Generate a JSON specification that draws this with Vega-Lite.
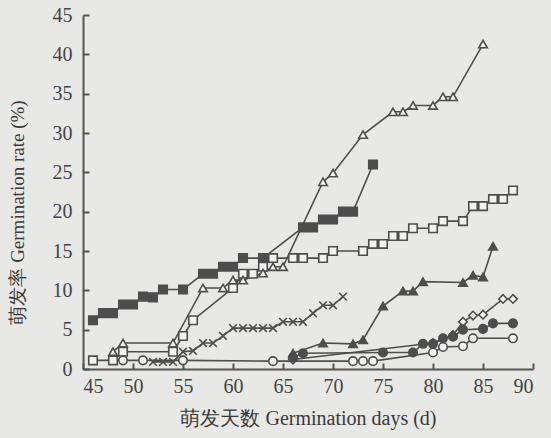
{
  "$schema": "https://vega.github.io/schema/vega-lite/v6.json",
  "width": 450,
  "height": 354,
  "autosize": {"type": "none"},
  "padding": {"left": 83, "top": 15, "right": 18, "bottom": 69},
  "background": "#e8e8e6",
  "config": {"view": {"stroke": null}, "font": "Liberation Serif"},
  "datasets": {
    "pts": [
      {"s": "fsq", "d": 46, "v": 6.2}, {"s": "fsq", "d": 47, "v": 7.1}, {"s": "fsq", "d": 48, "v": 7.1}, {"s": "fsq", "d": 49, "v": 8.2}, {"s": "fsq", "d": 50, "v": 8.2}, {"s": "fsq", "d": 51, "v": 9.2}, {"s": "fsq", "d": 52, "v": 9.1}, {"s": "fsq", "d": 53, "v": 10.1}, {"s": "fsq", "d": 55, "v": 10.1}, {"s": "fsq", "d": 57, "v": 12.1}, {"s": "fsq", "d": 58, "v": 12.1}, {"s": "fsq", "d": 59, "v": 13.0}, {"s": "fsq", "d": 60, "v": 13.0}, {"s": "fsq", "d": 61, "v": 14.1}, {"s": "fsq", "d": 63, "v": 14.1}, {"s": "fsq", "d": 67, "v": 18.0}, {"s": "fsq", "d": 68, "v": 18.0}, {"s": "fsq", "d": 69, "v": 19.0}, {"s": "fsq", "d": 70, "v": 19.0}, {"s": "fsq", "d": 71, "v": 20.0}, {"s": "fsq", "d": 72, "v": 20.0}, {"s": "fsq", "d": 74, "v": 26.0},
      {"s": "osq", "d": 46, "v": 1.1}, {"s": "osq", "d": 48, "v": 1.1}, {"s": "osq", "d": 49, "v": 2.2}, {"s": "osq", "d": 54, "v": 2.2}, {"s": "osq", "d": 55, "v": 4.2}, {"s": "osq", "d": 56, "v": 6.2}, {"s": "osq", "d": 60, "v": 10.3}, {"s": "osq", "d": 61, "v": 12.1}, {"s": "osq", "d": 62, "v": 12.1}, {"s": "osq", "d": 63, "v": 13.0}, {"s": "osq", "d": 64, "v": 14.1}, {"s": "osq", "d": 66, "v": 14.1}, {"s": "osq", "d": 67, "v": 14.1}, {"s": "osq", "d": 69, "v": 14.1}, {"s": "osq", "d": 70, "v": 15.0}, {"s": "osq", "d": 73, "v": 15.0}, {"s": "osq", "d": 74, "v": 15.9}, {"s": "osq", "d": 75, "v": 15.9}, {"s": "osq", "d": 76, "v": 16.9}, {"s": "osq", "d": 77, "v": 16.9}, {"s": "osq", "d": 78, "v": 17.9}, {"s": "osq", "d": 80, "v": 17.9}, {"s": "osq", "d": 81, "v": 18.8}, {"s": "osq", "d": 83, "v": 18.8}, {"s": "osq", "d": 84, "v": 20.7}, {"s": "osq", "d": 85, "v": 20.7}, {"s": "osq", "d": 86, "v": 21.6}, {"s": "osq", "d": 87, "v": 21.6}, {"s": "osq", "d": 88, "v": 22.7},
      {"s": "otr", "d": 48, "v": 2.2}, {"s": "otr", "d": 49, "v": 3.3}, {"s": "otr", "d": 54, "v": 3.3}, {"s": "otr", "d": 57, "v": 10.3}, {"s": "otr", "d": 59, "v": 10.3}, {"s": "otr", "d": 60, "v": 11.3}, {"s": "otr", "d": 61, "v": 11.3}, {"s": "otr", "d": 63, "v": 12.2}, {"s": "otr", "d": 64, "v": 13.0}, {"s": "otr", "d": 65, "v": 13.0}, {"s": "otr", "d": 69, "v": 23.8}, {"s": "otr", "d": 70, "v": 24.9}, {"s": "otr", "d": 73, "v": 29.8}, {"s": "otr", "d": 76, "v": 32.7}, {"s": "otr", "d": 77, "v": 32.7}, {"s": "otr", "d": 78, "v": 33.5}, {"s": "otr", "d": 80, "v": 33.5}, {"s": "otr", "d": 81, "v": 34.6}, {"s": "otr", "d": 82, "v": 34.6}, {"s": "otr", "d": 85, "v": 41.3},
      {"s": "ftr", "d": 66, "v": 2.0}, {"s": "ftr", "d": 69, "v": 3.3}, {"s": "ftr", "d": 72, "v": 3.2}, {"s": "ftr", "d": 73, "v": 3.7}, {"s": "ftr", "d": 75, "v": 8.0}, {"s": "ftr", "d": 77, "v": 9.9}, {"s": "ftr", "d": 78, "v": 9.9}, {"s": "ftr", "d": 79, "v": 11.1}, {"s": "ftr", "d": 83, "v": 11.0}, {"s": "ftr", "d": 84, "v": 11.9}, {"s": "ftr", "d": 85, "v": 11.7}, {"s": "ftr", "d": 86, "v": 15.6},
      {"s": "x", "d": 52, "v": 0.9}, {"s": "x", "d": 53, "v": 0.9}, {"s": "x", "d": 54, "v": 0.9}, {"s": "x", "d": 55, "v": 2.2}, {"s": "x", "d": 56, "v": 2.3}, {"s": "x", "d": 57, "v": 3.3}, {"s": "x", "d": 58, "v": 3.3}, {"s": "x", "d": 59, "v": 4.2}, {"s": "x", "d": 60, "v": 5.2}, {"s": "x", "d": 61, "v": 5.2}, {"s": "x", "d": 62, "v": 5.2}, {"s": "x", "d": 63, "v": 5.2}, {"s": "x", "d": 64, "v": 5.2}, {"s": "x", "d": 65, "v": 6.0}, {"s": "x", "d": 66, "v": 6.0}, {"s": "x", "d": 67, "v": 6.0}, {"s": "x", "d": 68, "v": 7.1}, {"s": "x", "d": 69, "v": 8.1}, {"s": "x", "d": 70, "v": 8.1}, {"s": "x", "d": 71, "v": 9.2},
      {"s": "odi", "d": 66, "v": 1.2}, {"s": "odi", "d": 80, "v": 3.3}, {"s": "odi", "d": 82, "v": 4.3}, {"s": "odi", "d": 83, "v": 6.0}, {"s": "odi", "d": 84, "v": 6.8}, {"s": "odi", "d": 85, "v": 6.9}, {"s": "odi", "d": 87, "v": 8.9}, {"s": "odi", "d": 88, "v": 8.9},
      {"s": "fci", "d": 66, "v": 1.5}, {"s": "fci", "d": 67, "v": 2.0}, {"s": "fci", "d": 75, "v": 2.1}, {"s": "fci", "d": 78, "v": 2.1}, {"s": "fci", "d": 79, "v": 3.2}, {"s": "fci", "d": 80, "v": 3.2}, {"s": "fci", "d": 81, "v": 3.9}, {"s": "fci", "d": 82, "v": 4.1}, {"s": "fci", "d": 83, "v": 5.0}, {"s": "fci", "d": 85, "v": 5.1}, {"s": "fci", "d": 86, "v": 5.8}, {"s": "fci", "d": 88, "v": 5.8},
      {"s": "oci", "d": 49, "v": 1.1}, {"s": "oci", "d": 51, "v": 1.1}, {"s": "oci", "d": 55, "v": 1.1}, {"s": "oci", "d": 64, "v": 1.0}, {"s": "oci", "d": 72, "v": 1.0}, {"s": "oci", "d": 73, "v": 1.0}, {"s": "oci", "d": 74, "v": 1.0}, {"s": "oci", "d": 80, "v": 2.1}, {"s": "oci", "d": 81, "v": 2.8}, {"s": "oci", "d": 83, "v": 2.9}, {"s": "oci", "d": 84, "v": 3.9}, {"s": "oci", "d": 88, "v": 3.9}
    ]
  },
  "data": {"name": "pts"},
  "encoding": {
    "x": {
      "field": "d", "type": "quantitative",
      "scale": {"domain": [45, 90], "nice": false, "zero": false},
      "axis": {
        "values": [45, 50, 55, 60, 65, 70, 75, 80, 85, 90],
        "grid": false, "domainColor": "#555", "domainWidth": 2, "tickColor": "#555", "tickWidth": 2, "tickSize": -6,
        "labelFont": "Liberation Serif", "labelFontSize": 20, "labelColor": "#444", "labelPadding": 13,
        "title": "萌发天数  Germination days (d)", "titleFont": "Liberation Serif", "titleFontSize": 20, "titleFontWeight": "normal", "titleColor": "#3a3a3a", "titlePadding": 12
      }
    },
    "y": {
      "field": "v", "type": "quantitative",
      "scale": {"domain": [0, 45], "nice": false},
      "axis": {
        "values": [0, 5, 10, 15, 20, 25, 30, 35, 40, 45],
        "grid": false, "domainColor": "#555", "domainWidth": 2, "tickColor": "#555", "tickWidth": 2, "tickSize": -6,
        "labelFont": "Liberation Serif", "labelFontSize": 20, "labelColor": "#444", "labelPadding": 17,
        "title": "萌发率  Germination rate (%)", "titleFont": "Liberation Serif", "titleFontSize": 19, "titleFontWeight": "normal", "titleColor": "#3a3a3a",
        "titleX": -66, "titleY": 197, "titleBaseline": "middle", "titleAngle": -90, "titleAlign": "center"
      }
    }
  },
  "layer": [
    {"mark": {"type": "line", "stroke": "#4d4d4d", "strokeWidth": 1.6}, "encoding": {"detail": {"field": "s"}}},
    {
      "mark": {"type": "point", "filled": true, "size": 72, "stroke": "#4d4d4d", "strokeWidth": 1.6, "opacity": 1},
      "encoding": {
        "shape": {"field": "s", "type": "nominal", "legend": null,
          "scale": {"domain": ["fsq", "osq", "otr", "ftr", "x", "odi", "fci", "oci"],
                    "range": ["square", "square", "triangle-up", "triangle-up", "M-0.9,-0.9L0.9,0.9M-0.9,0.9L0.9,-0.9", "diamond", "circle", "circle"]}},
        "fill": {"field": "s", "type": "nominal", "legend": null,
          "scale": {"domain": ["fsq", "osq", "otr", "ftr", "x", "odi", "fci", "oci"],
                    "range": ["#4d4d4d", "#f2f2f0", "#f2f2f0", "#4d4d4d", "#4d4d4d", "#f2f2f0", "#4d4d4d", "#f2f2f0"]}}
      }
    }
  ]
}
